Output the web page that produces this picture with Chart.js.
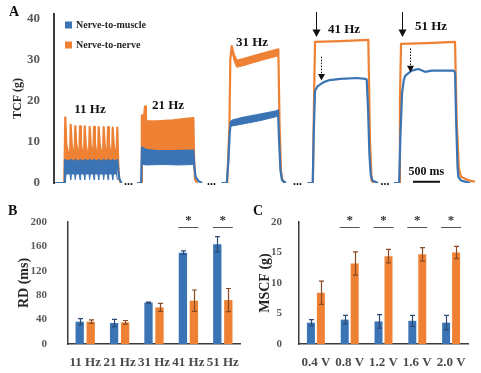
<!DOCTYPE html>
<html>
<head>
<meta charset="utf-8">
<script src="https://cdn.jsdelivr.net/npm/chart.js@4.4.1/dist/chart.umd.min.js"></script>
<style>
  html, body { margin: 0; padding: 0; background: #ffffff; }
  #wrap { position: relative; width: 481px; height: 373px; background: #ffffff; overflow: hidden; }
  canvas { position: absolute; }
</style>
</head>
<body>
<div id="wrap">
  <canvas id="cA" width="481" height="195" style="left:0;top:0;width:481px;height:195px"></canvas>
  <canvas id="cB" width="245" height="178" style="left:0;top:195px;width:245px;height:178px"></canvas>
  <canvas id="cC" width="236" height="178" style="left:245px;top:195px;width:236px;height:178px"></canvas>
</div>
<script>
// ---------------- DATA ----------------
// Panel A: force traces, [time in ms along the record, force in g]; null separates the trains
const trainLabels = ['11 Hz', '21 Hz', '31 Hz', '41 Hz', '51 Hz'];
const tcfTicks = [0, 10, 20, 30, 40];
const scaleBarMs = 500;

const muscleTrace = [
  [20,0],[188,0],[203,5.6],[280,5.1],[309,5.6],[370,5.1],[394,5.6],[460,5.1],[481,5.6],[545,5.1],[568,5.6],[635,5.1],
  [660,5.6],[720,5.1],[740,5.6],[805,5.1],[827,5.6],[895,5.1],[919,5.6],[980,5.1],[999,5.6],[1065,5.1],[1086,5.6],
  [1150,5.1],[1171,5.6],[1190,3.0],[1210,1.0],[1250,0],
  [1300,null],
  [1540,0],[1612,0],[1628,8.6],[1700,8.1],[1900,7.8],[2200,7.8],[2578,7.9],[2595,4.0],[2620,1.5],[2670,0.5],[2740,0],
  [2900,null],
  [3100,0],[3195,0],[3225,5],[3250,12],[3269,14.8],[3300,15.2],[3497,15.9],[3811,16.7],[4120,17.5],[4144,17.7],
  [4165,10],[4190,3],[4218,0.7],[4290,0],
  [4500,null],
  [4690,0],[4786,0],[4805,12],[4829,22.5],[4880,23.6],[4990,24.6],[5100,25.1],[5300,25.4],[5600,25.6],[5760,25.4],
  [5785,25.2],[5810,18],[5835,7],[5859,2],[5890,0.6],[5994,0],
  [6100,null],
  [6290,0],[6385,0],[6410,12],[6440,22],[6470,25],[6500,26.2],[6617,27.4],[6740,27.8],[6864,27.1],[6987,27.4],
  [7387,27.4],[7419,27.0],[7440,15],[7465,4],[7480,1.5],[7530,0.6],[7635,0.2],[7700,0]
];
const muscleTraceLow = [
  [203,1.6],[209,0.8],[222,2.2],[296,2.2],[309,0.8],[322,2.2],[381,2.2],[394,0.8],[407,2.2],[468,2.2],[481,0.8],
  [494,2.2],[555,2.2],[568,0.8],[581,2.2],[647,2.2],[660,0.8],[673,2.2],[727,2.2],[740,0.8],[753,2.2],[814,2.2],
  [827,0.8],[840,2.2],[906,2.2],[919,0.8],[932,2.2],[986,2.2],[999,0.8],[1012,2.2],[1073,2.2],[1086,0.8],[1099,2.2],
  [1158,2.2],[1171,0.8],
  [1300,null],
  [1628,4.6],[1700,4.4],[2000,4.5],[2300,4.4],[2578,4.5],
  [2900,null],
  [3269,13.8],[3300,13.9],[3497,14.4],[3811,15.2],[4120,16.2],[4144,16.5]
];
const nerveTrace = [
  [20,0],[190,0],[209,16.0],[227,9.5],[294,5.0],[309,14.2],[327,9.5],[379,5.0],[394,13.9],[412,9.5],[466,5.0],
  [481,13.8],[499,9.5],[553,5.0],[568,13.8],[586,9.5],[645,5.0],[660,13.7],[678,9.5],[725,5.0],[740,13.7],[758,9.5],
  [812,5.0],[827,13.6],[845,9.5],[904,5.0],[919,13.6],[937,9.5],[984,5.0],[999,13.6],[1017,9.5],[1071,5.0],
  [1086,13.5],[1104,9.5],[1156,5.0],[1171,13.5],[1188,5.0],[1205,1.0],[1235,0],
  [1300,null],
  [1540,0],[1610,0],[1625,16.5],[1668,16.5],[1684,18.7],[1700,15.6],[1720,15.0],[1900,15.0],[2200,15.3],[2400,15.6],
  [2578,15.8],[2592,6.0],[2610,0.8],[2650,0],
  [2900,null],
  [3100,0],[3205,0],[3245,14],[3262,30],[3287,33.4],[3330,31.2],[3380,29.8],[3502,30.2],[3811,31.4],[4150,32.6],
  [4172,15],[4198,3],[4228,0.6],[4260,0],
  [4500,null],
  [4690,0],[4790,0],[4810,20],[4829,34.4],[5300,34.6],[5815,34.9],[5846,10],[5877,0.5],[5920,0],
  [6100,null],
  [6290,0],[6383,0],[6400,20],[6420,33.9],[6900,34.1],[7419,34.4],[7450,15],[7490,3.5],[7530,1.5],[7665,0.7],[7789,0.3]
];
const nerveTraceLow = [
  [209,5.0],[1171,5.0],
  [1300,null],
  [1625,7.5],[2578,7.3],
  [2900,null],
  [3287,32.3],[3330,29.8],[3380,28.2],[3502,28.6],[3811,29.8],[4150,31.0]
];

// Panel B: relaxation duration
const rdCategories = ['11 Hz', '21 Hz', '31 Hz', '41 Hz', '51 Hz'];
const rdMuscle = [36.6, 34.4, 67.8, 149.7, 163.4];
const rdMuscleErr = [5, 6, 1, 3, 12.5];
const rdNerve = [36.6, 35.5, 60, 71, 72];
const rdNerveErr = [3, 3, 6.5, 17.5, 19];
const rdTicks = [0, 40, 80, 120, 160, 200];
const rdSignificant = [3, 4];

// Panel C: maximal single contraction force
const mscfCategories = ['0.4 V', '0.8 V', '1.2 V', '1.6 V', '2.0 V'];
const mscfMuscle = [3.5, 4.0, 3.7, 3.8, 3.5];
const mscfMuscleErr = [0.5, 0.7, 1.1, 0.9, 1.2];
const mscfNerve = [8.4, 13.2, 14.4, 14.7, 15.0];
const mscfNerveErr = [1.9, 1.9, 1.1, 1.1, 1.0];
const mscfTicks = [0, 5, 10, 15, 20];
const mscfSignificant = [1, 2, 3, 4];

// ---------------- STYLE ----------------
const FONT = '"Liberation Serif", "Times New Roman", serif';
const BLUE = '#3b74b4';
const ORANGE = '#ee8134';
const BLUE_ERR = '#2b4a74';
const ORANGE_ERR = '#8c4b22';
const AXIS = '#3c3c3c';
const TICK = '#595959';

const annotA = {
  letter: [9, 12],
  legendDx: 11, legendDy: [11, 31],
  labelPos: [[666, 17.8], [2109, 18.8], [3663, 34.1], [5365, 37.3], [6975, 38.0]],
  breakPos: [1378, 2914, 4505, 6124],
  solidArrows: [[4847, 41.7, 35.6], [6447, 41.7, 35.6]],
  dottedArrows: [[4940, 30.8, 25.0], [6577, 32.8, 27.0]],
  scaleBar: { t0: 6640, y: 0.3, labelY: 2.7 }
};

function arrowHead(ctx, x, tipY, half, len) {
  ctx.beginPath();
  ctx.moveTo(x - half, tipY - len);
  ctx.lineTo(x + half, tipY - len);
  ctx.lineTo(x, tipY);
  ctx.closePath();
  ctx.fill();
}

const panelAPlugin = {
  id: 'panelA',
  afterDraw(chart) {
    const { ctx, chartArea: ca, scales: { x, y } } = chart;
    const X = v => x.getPixelForValue(v), Y = v => y.getPixelForValue(v);
    ctx.save();
    ctx.textBaseline = 'middle';
    ctx.textAlign = 'left';
    ctx.fillStyle = '#111';
    ctx.font = `bold 14px ${FONT}`;
    ctx.fillText('A', annotA.letter[0], annotA.letter[1]);

    // legend
    ctx.font = `bold 10px ${FONT}`;
    [0, 2].forEach((di, k) => {
      const ds = chart.data.datasets[di];
      const bx = ca.left + annotA.legendDx, by = ca.top + annotA.legendDy[k];
      ctx.fillStyle = ds.borderColor;
      ctx.fillRect(bx, by - 3.5, 7, 7);
      ctx.fillStyle = '#262626';
      ctx.fillText(ds.label, bx + 11, by);
    });

    // train labels
    ctx.fillStyle = '#111';
    ctx.textAlign = 'center';
    ctx.font = `bold 13px ${FONT}`;
    trainLabels.forEach((lab, i) => {
      const p = annotA.labelPos[i];
      ctx.fillText(lab, X(p[0]), Y(p[1]));
    });

    // breaks
    ctx.font = `bold 12px ${FONT}`;
    ctx.textBaseline = 'alphabetic';
    annotA.breakPos.forEach(t => ctx.fillText('...', X(t), Y(0) + 1.5));

    // solid arrows
    ctx.strokeStyle = '#111';
    ctx.fillStyle = '#111';
    ctx.lineWidth = 1;
    annotA.solidArrows.forEach(([t, y0, y1]) => {
      const px = Math.round(X(t)) + 0.5;
      ctx.beginPath();
      ctx.moveTo(px, Y(y0));
      ctx.lineTo(px, Y(y1) - 6);
      ctx.stroke();
      arrowHead(ctx, px, Y(y1), 4, 7.5);
    });
    // dotted arrows
    annotA.dottedArrows.forEach(([t, y0, y1]) => {
      const px = Math.round(X(t)) + 0.5;
      ctx.save();
      ctx.setLineDash([1.5, 1.5]);
      ctx.beginPath();
      ctx.moveTo(px, Y(y0));
      ctx.lineTo(px, Y(y1) - 6);
      ctx.stroke();
      ctx.restore();
      arrowHead(ctx, px, Y(y1), 3.5, 6.5);
    });

    // scale bar
    const sb = annotA.scaleBar;
    ctx.lineWidth = 2;
    ctx.beginPath();
    ctx.moveTo(X(sb.t0), Y(sb.y));
    ctx.lineTo(X(sb.t0 + scaleBarMs), Y(sb.y));
    ctx.stroke();
    ctx.textBaseline = 'middle';
    ctx.font = `bold 12px ${FONT}`;
    ctx.fillText(scaleBarMs + ' ms', X(sb.t0 + scaleBarMs / 2), Y(sb.labelY));
    ctx.restore();
  }
};

new Chart(document.getElementById('cA'), {
  type: 'line',
  data: {
    datasets: [
      { label: 'Nerve-to-muscle', data: muscleTrace, borderColor: BLUE, backgroundColor: BLUE, borderWidth: 2.2, fill: '+1' },
      { label: 'muscle-low', data: muscleTraceLow, borderColor: BLUE, backgroundColor: BLUE, borderWidth: 1, fill: false },
      { label: 'Nerve-to-nerve', data: nerveTrace, borderColor: ORANGE, backgroundColor: ORANGE, borderWidth: 2.2, fill: '+1' },
      { label: 'nerve-low', data: nerveTraceLow, borderColor: ORANGE, backgroundColor: ORANGE, borderWidth: 1, fill: false }
    ]
  },
  options: {
    responsive: false, animation: false, devicePixelRatio: 1,
    layout: { padding: { top: 14, bottom: 12, right: 3, left: 0 } },
    elements: { point: { radius: 0, hoverRadius: 0 }, line: { tension: 0, borderJoinStyle: 'round' } },
    plugins: { legend: { display: false }, tooltip: { enabled: false } },
    scales: {
      x: { type: 'linear', min: 0, max: 7844, display: false },
      y: {
        min: 0, max: 41.2,
        afterBuildTicks: s => { s.ticks = tcfTicks.map(v => ({ value: v })); },
        afterFit: s => { s.width = 54; s.paddingTop = 0; s.paddingBottom = 0; },
        grid: { display: false },
        border: { display: true, color: AXIS, width: 2 },
        ticks: { font: { family: FONT, size: 13, weight: 'bold' }, color: TICK, padding: 6 },
        title: { display: true, text: 'TCF (g)', font: { family: FONT, size: 12, weight: 'bold' }, color: '#262626', padding: { top: 11, bottom: 0 } }
      }
    }
  },
  plugins: [panelAPlugin]
});

function barDecor(letter, errs, significant, sigValue) {
  return {
    id: 'decor' + letter,
    afterDatasetsDraw(chart) {
      const { ctx, scales: { y } } = chart;
      ctx.save();
      ctx.lineWidth = 1.2;
      chart.data.datasets.forEach((ds, di) => {
        const meta = chart.getDatasetMeta(di);
        ctx.strokeStyle = di === 0 ? BLUE_ERR : ORANGE_ERR;
        meta.data.forEach((bar, i) => {
          const v = ds.data[i], e = errs[di][i];
          const yt = y.getPixelForValue(v + e), yb = y.getPixelForValue(Math.max(0, v - e));
          const bx = Math.round(bar.x) + 0.5;
          ctx.beginPath();
          ctx.moveTo(bx, yt); ctx.lineTo(bx, yb);
          ctx.moveTo(bx - 2.5, yt); ctx.lineTo(bx + 2.5, yt);
          ctx.moveTo(bx - 2.5, yb); ctx.lineTo(bx + 2.5, yb);
          ctx.stroke();
        });
      });
      ctx.restore();
    },
    afterDraw(chart) {
      const { ctx, scales: { x, y } } = chart;
      ctx.save();
      ctx.fillStyle = '#111';
      ctx.textAlign = 'left';
      ctx.textBaseline = 'middle';
      ctx.font = `bold 14px ${FONT}`;
      ctx.fillText(letter, 8, 16);
      ctx.strokeStyle = '#555';
      ctx.lineWidth = 1;
      ctx.textAlign = 'center';
      ctx.font = `bold 13px ${FONT}`;
      significant.forEach(i => {
        const cx = x.getPixelForValue(i);
        const ly = Math.round(y.getPixelForValue(sigValue)) + 0.5;
        ctx.beginPath();
        ctx.moveTo(cx - 10, ly); ctx.lineTo(cx + 10, ly);
        ctx.stroke();
        ctx.fillStyle = '#333';
        ctx.fillText('*', cx, ly - 7);
      });
      ctx.restore();
    }
  };
}

function barChart(id, cats, muscle, nerve, ticks, maxV, opts) {
  new Chart(document.getElementById(id), {
    type: 'bar',
    data: {
      labels: cats,
      datasets: [
        { label: 'Nerve-to-muscle', data: muscle, backgroundColor: BLUE, borderWidth: 0, categoryPercentage: opts.cp, barPercentage: opts.bp },
        { label: 'Nerve-to-nerve', data: nerve, backgroundColor: ORANGE, borderWidth: 0, categoryPercentage: opts.cp, barPercentage: opts.bp }
      ]
    },
    options: {
      responsive: false, animation: false, devicePixelRatio: 1,
      layout: { padding: { top: 27, right: opts.right, left: 0, bottom: 0 } },
      plugins: { legend: { display: false }, tooltip: { enabled: false } },
      scales: {
        x: {
          grid: { display: false },
          border: { display: true, color: AXIS, width: 1.5 },
          ticks: { font: { family: FONT, size: 13, weight: 'bold' }, color: '#4a4a4a', padding: 3, maxRotation: 0, autoSkip: false },
          afterFit: s => { s.height = 29; s.paddingLeft = 0; s.paddingRight = 0; }
        },
        y: {
          min: 0, max: maxV,
          afterBuildTicks: s => { s.ticks = ticks.map(v => ({ value: v })); },
          afterFit: s => { s.width = opts.axisW; s.paddingTop = 0; s.paddingBottom = 0; },
          grid: { display: false },
          border: { display: true, color: AXIS, width: 1.5 },
          ticks: { font: { family: FONT, size: 11, weight: 'bold' }, color: TICK, padding: opts.tickPad },
          title: { display: true, text: opts.title, font: { family: FONT, size: 14, weight: 'bold' }, color: '#262626', padding: { top: opts.titlePad, bottom: 0 } }
        }
      }
    },
    plugins: [barDecor(opts.letter, opts.errs, opts.sig, opts.sigValue)]
  });
}

barChart('cB', rdCategories, rdMuscle, rdNerve, rdTicks, 200, {
  cp: 0.64, bp: 0.755, right: 5, axisW: 68, tickPad: 13, title: 'RD (ms)', titlePad: 15.6,
  letter: 'B', errs: [rdMuscleErr, rdNerveErr], sig: rdSignificant, sigValue: 192
});
barChart('cC', mscfCategories, mscfMuscle, mscfNerve, mscfTicks, 20, {
  cp: 0.59, bp: 0.8, right: 13, axisW: 54, tickPad: 9, title: 'MSCF (g)', titlePad: 11.6,
  letter: 'C', errs: [mscfMuscleErr, mscfNerveErr], sig: mscfSignificant, sigValue: 19.2
});
</script>
</body>
</html>
